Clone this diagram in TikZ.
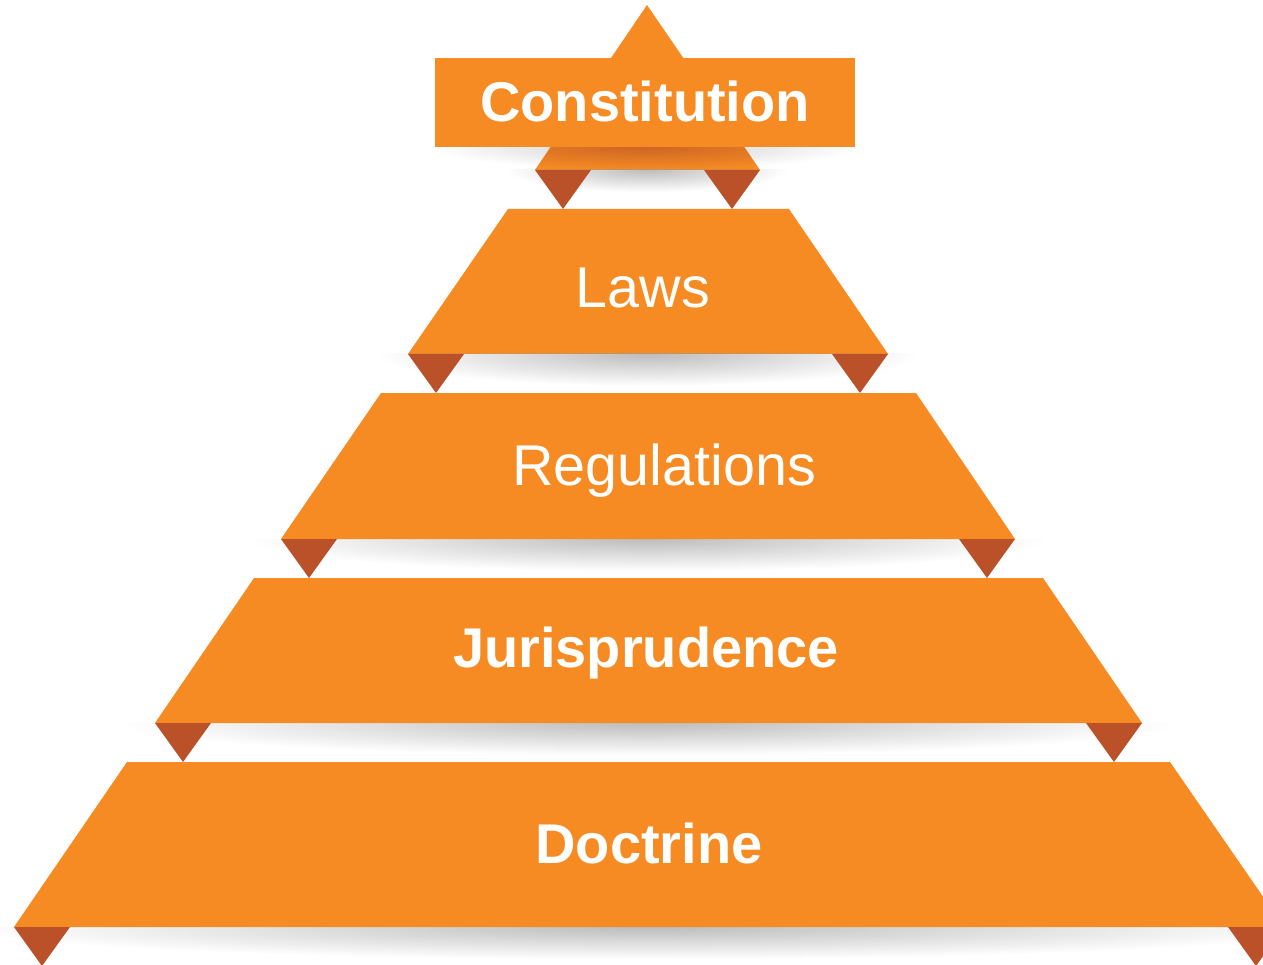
\documentclass[tikz,border=0pt]{standalone}
\usepackage{fontspec}
\setmainfont{Liberation Sans}
\usetikzlibrary{fadings}
\tikzfading[name=shfade, inner color=transparent!35, outer color=transparent!100]
\definecolor{band}{RGB}{245,139,34}
\definecolor{fold}{RGB}{186,81,40}
\newcommand\bandshadow[4]{%
  \begin{scope}
    \clip (#1-#3,#2) rectangle (#1+#3,#2+#4);
    \fill[shadowfill] (#1-#3,#2-#4) rectangle (#1+#3,#2+#4);
  \end{scope}}
\begin{document}
\begin{tikzpicture}[x=1pt,y=-1pt,
  bandfill/.style={fill=band},
  foldfill/.style={fill=fold},
  shadowfill/.style={fill=black!40, path fading=shfade},
  lbl/.style={text=white, font=\fontsize{57.5}{60}\selectfont, anchor=base, inner sep=0pt},
  lblb/.style={text=white, font=\fontsize{56}{60}\selectfont\bfseries, anchor=base, inner sep=0pt}]
\useasboundingbox (0,0) rectangle (1263,965);
\clip (0,0) rectangle (1263,965);
% top tier
\begin{scope}
  \clip (430,147) rectangle (860,175);
  \fill[black!30, path fading=shfade] (430,125) rectangle (860,169);
\end{scope}
\fill[bandfill] (647,5) -- (760,170) -- (535,170) -- cycle;
\begin{scope}
  \clip (647,5) -- (760,170) -- (535,170) -- cycle;
  \fill[fold, path fading=shfade] (430,125) rectangle (860,169);
\end{scope}
\bandshadow{647}{170}{140}{22}
\fill[foldfill] (535,170) -- (591,170) -- (563,209) -- cycle;
\fill[foldfill] (704,170) -- (760,170) -- (732,209) -- cycle;
\fill[bandfill] (435,58) rectangle (855,147);
\node[lblb] (constitution) at (645,122) {Constitution};
% laws
\fill[bandfill] (508,209) -- (789,209) -- (888,354) -- (408,354) -- cycle;
\bandshadow{648}{354}{270}{32}
\fill[foldfill] (408,354) -- (464,354) -- (436,393) -- cycle;
\fill[foldfill] (832,354) -- (888,354) -- (860,393) -- cycle;
\node[lbl] (laws) at (643,308) {Laws};
% regulations
\fill[bandfill] (381,393) -- (916,393) -- (1015,539) -- (281,539) -- cycle;
\bandshadow{648}{539}{400}{32}
\fill[foldfill] (281,539) -- (337,539) -- (309,578) -- cycle;
\fill[foldfill] (959,539) -- (1015,539) -- (987,578) -- cycle;
\node[lbl] (regulations) at (664,485) {Regulations};
% jurisprudence
\fill[bandfill] (254,578) -- (1043,578) -- (1142,723) -- (155,723) -- cycle;
\bandshadow{648}{723}{530}{32}
\fill[foldfill] (155,723) -- (211,723) -- (183,762) -- cycle;
\fill[foldfill] (1086,723) -- (1142,723) -- (1114,762) -- cycle;
\node[lblb] (jurisprudence) at (646,667) {Jurisprudence};
% doctrine
\fill[bandfill] (127,762) -- (1170,762) -- (1284,927) -- (14,927) -- cycle;
\bandshadow{648}{927}{680}{32}
\fill[foldfill] (14,927) -- (70,927) -- (42,966) -- cycle;
\fill[foldfill] (1228,927) -- (1284,927) -- (1256,966) -- cycle;
\node[lblb] (doctrine) at (649,863) {Doctrine};
\end{tikzpicture}
\end{document}
